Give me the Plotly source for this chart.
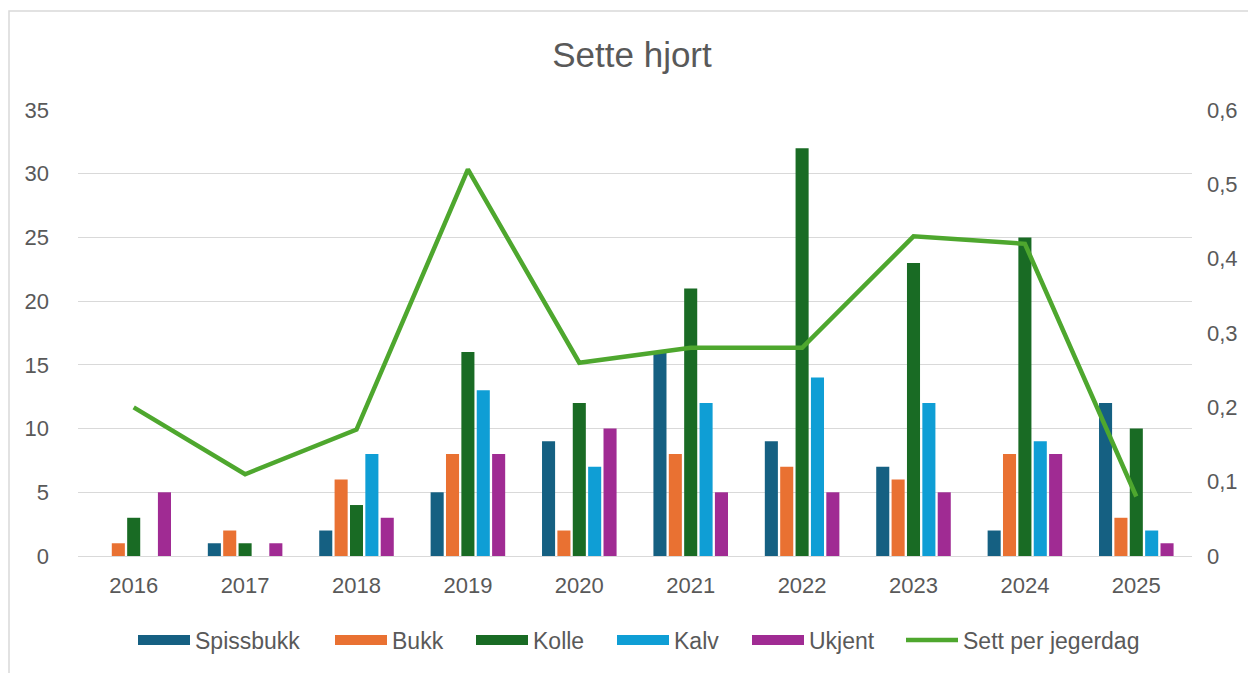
import plotly.graph_objects as go

years = ["2016", "2017", "2018", "2019", "2020", "2021", "2022", "2023", "2024", "2025"]
spissbukk = [0, 1, 2, 5, 9, 16, 9, 7, 2, 12]
bukk = [1, 2, 6, 8, 2, 8, 7, 6, 8, 3]
kolle = [3, 1, 4, 16, 12, 21, 32, 23, 25, 10]
kalv = [0, 0, 8, 13, 7, 12, 14, 12, 9, 2]
ukjent = [5, 1, 3, 8, 10, 5, 5, 5, 8, 1]
sett_per_jegerdag = [0.20, 0.11, 0.17, 0.52, 0.26, 0.28, 0.28, 0.43, 0.42, 0.08]

# page body has an 8px margin, so the figure is drawn 8px in from the window edge
W, H = 1248, 665
L, R, T, B = 70, 64, 102, 117
pw, ph = W - L - R, H - T - B

FONT = "Liberation Sans, Arial, sans-serif"
GREY = "#595959"

# left edge (px, figure coords) of each legend entry, as in the original
legend_left = [130, 327, 468, 609, 744, 898]
LEG_PAD = 5
legend_ids = ["legend", "legend2", "legend3", "legend4", "legend5", "legend6"]

fig = go.Figure()
series = [
    ("Spissbukk", spissbukk, "#156082"),
    ("Bukk", bukk, "#E97132"),
    ("Kolle", kolle, "#196B24"),
    ("Kalv", kalv, "#0F9ED5"),
    ("Ukjent", ukjent, "#A02B93"),
]
for i, (name, vals, col) in enumerate(series):
    fig.add_trace(go.Bar(x=years, y=vals, name=name, marker_color=col,
                         marker_line_width=0, legendgroup=name,
                         showlegend=False))
    # legend-only entry giving the wide rectangular swatch of the original
    fig.add_trace(go.Scatter(x=[None], y=[None], name=name, mode="lines",
                             legendgroup=name, legend=legend_ids[i],
                             line=dict(color=col, width=13)))
fig.add_trace(go.Scatter(x=years, y=sett_per_jegerdag, name="Sett per jegerdag",
                         yaxis="y2", mode="lines", legend=legend_ids[5],
                         line=dict(color="#4EA72E", width=4.5)))

legends = {}
for i, lid in enumerate(legend_ids):
    legends[lid] = dict(orientation="h", x=(legend_left[i] - LEG_PAD - L) / pw,
                        xanchor="left", y=-(632 - 548) / ph, yanchor="middle",
                        font=dict(size=23, color=GREY), itemwidth=52,
                        bgcolor="rgba(0,0,0,0)")

fig.update_layout(
    width=W, height=H,
    margin=dict(l=L, r=R, t=T, b=B),
    paper_bgcolor="white", plot_bgcolor="white",
    separators=", ",
    barmode="group", bargap=0.31, bargroupgap=0.15,
    font=dict(family=FONT, color=GREY, size=22),
    title=dict(text="Sette hjort", x=0.5, xanchor="center", y=1 - 47 / H,
               yanchor="middle", font=dict(size=35, color=GREY, family=FONT)),
    xaxis=dict(type="category", range=[-0.5, 9.5], showgrid=False,
               showline=False, ticks="", ticklabelstandoff=14,
               tickfont=dict(size=22, color=GREY)),
    yaxis=dict(range=[0, 35], dtick=5, showgrid=True, gridcolor="#D9D9D9",
               gridwidth=1.3, zeroline=True, zerolinecolor="#D9D9D9",
               zerolinewidth=1.3, ticks="", ticklabelstandoff=28,
               tickfont=dict(size=22, color=GREY)),
    yaxis2=dict(range=[0, 0.6], dtick=0.1, overlaying="y", side="right",
                showgrid=False, zeroline=False, ticks="", ticklabelstandoff=14,
                tickfont=dict(size=22, color=GREY)),
    showlegend=True,
    **legends,
)

# outer chart border (light grey frame, open to the right and bottom)
fig.add_shape(type="rect", xref="paper", yref="paper",
              x0=(1 - L) / pw, x1=(W + 10 - L) / pw,
              y0=-(B + 10) / ph, y1=1 + (T - 3) / ph,
              line=dict(color="#D9D9D9", width=1.5), fillcolor="rgba(0,0,0,0)",
              layer="below")

fig.write_html("out.html")
